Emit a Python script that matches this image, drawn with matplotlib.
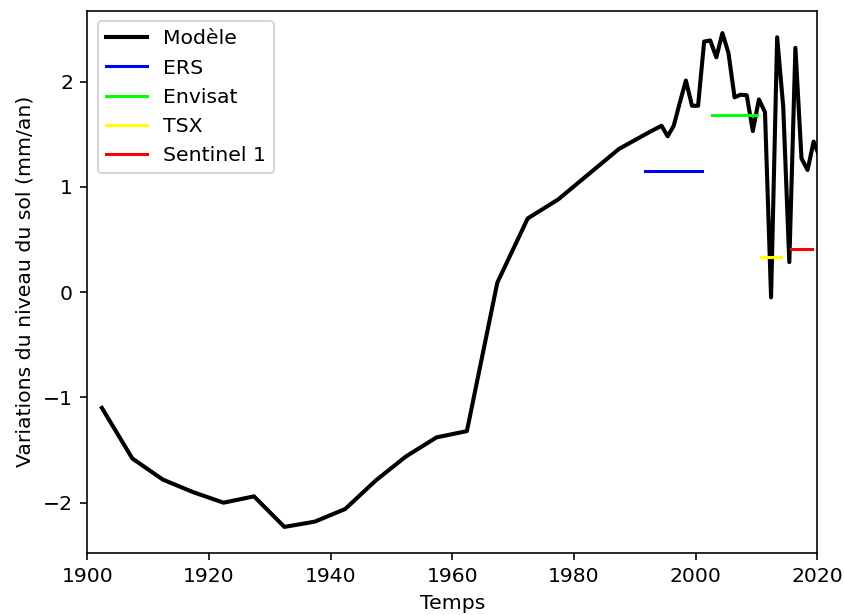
import numpy as np
import matplotlib.pyplot as plt

# modelled ground level variation (mm/an)
years_5 = [1902.4, 1907.4, 1912.4, 1917.4, 1922.4, 1927.4, 1932.4, 1937.4, 1942.4,
           1947.4, 1952.4, 1957.4, 1962.4, 1967.4, 1972.4, 1977.4, 1982.4, 1987.4,
           1992.4]
vals_5 = [-1.10, -1.58, -1.78, -1.90, -2.00, -1.94, -2.23, -2.18, -2.06,
          -1.79, -1.56, -1.38, -1.32, 0.09, 0.70, 0.88, 1.12, 1.36,
          1.52]
years_1 = [1993.4, 1994.4, 1995.4, 1996.4, 1997.4, 1998.4, 1999.4, 2000.4, 2001.4,
           2002.4, 2003.4, 2004.4, 2005.4, 2006.4, 2007.4, 2008.4, 2009.4, 2010.4,
           2011.4, 2012.4, 2013.4, 2014.4, 2015.4, 2016.4, 2017.4, 2018.4, 2019.4,
           2020.4]
vals_1 = [1.55, 1.58, 1.48, 1.58, 1.80, 2.01, 1.77, 1.77, 2.38,
          2.39, 2.23, 2.46, 2.27, 1.85, 1.875, 1.87, 1.53, 1.83,
          1.71, -0.05, 2.42, 1.76, 0.285, 2.32, 1.27, 1.16, 1.43,
          1.28]

# satellite mean velocities
sat_names = ['ERS', 'Envisat', 'TSX', 'Sentinel 1']
sat_start = [1991.7, 2002.75, 2010.75, 2015.6]
sat_end = [2001.0, 2010.1, 2014.0, 2019.2]
sat_vals = [1.153, 1.685, 0.333, 0.414]
sat_colors = ['blue', 'lime', 'yellow', 'red']

dpi = 147
fig = plt.figure(figsize=(844 / dpi, 615 / dpi), dpi=dpi)
ax = fig.add_axes([87.3 / 844, (615 - 552.7) / 615, 730 / 844, (552.7 - 11) / 615])

t = years_5 + years_1
v = vals_5 + vals_1
ax.plot(t, v, color='black', lw=2, label='Modèle')

for name, x0, x1, y, c in zip(sat_names, sat_start, sat_end, sat_vals, sat_colors):
    ax.plot([x0, x1], [y, y], color=c, label=name)

ax.set_xlim(1900, 2020)
ax.set_ylim(-2.475, 2.67)
ax.set_xlabel('Temps')
ax.set_ylabel('Variations du niveau du sol (mm/an)')
ax.legend(loc='upper left')

fig.savefig('out.png', dpi=dpi)
